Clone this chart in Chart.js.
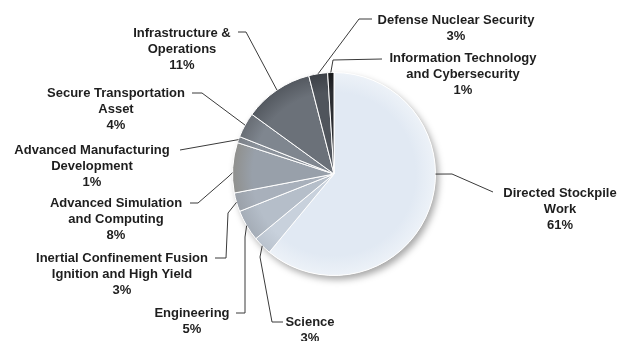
<!DOCTYPE html>
<html>
<head>
<meta charset="utf-8">
<script src="https://cdn.jsdelivr.net/npm/chart.js@4"></script>
<style>
  html, body { margin: 0; padding: 0; background: #fff; }
  #wrap { width: 625px; height: 341px; position: relative; }
</style>
</head>
<body>
<div id="wrap"><canvas id="budget"></canvas></div>
<script>
// slices, clockwise from 12 o'clock
const categories = [
  'Directed Stockpile\nWork',
  'Science',
  'Engineering',
  'Inertial Confinement Fusion\nIgnition and High Yield',
  'Advanced Simulation\nand Computing',
  'Advanced Manufacturing\nDevelopment',
  'Secure Transportation\nAsset',
  'Infrastructure &\nOperations',
  'Defense Nuclear Security',
  'Information Technology\nand Cybersecurity'
];
const shares = [61, 3, 5, 3, 8, 1, 4, 11, 3, 1];

// inner / rim colour of each slice
const innerColors = ['#e1e9f3', '#c8d1dc', '#b5bec9', '#a8b0bb', '#98a0aa', '#8b929b', '#7f868f', '#6b7179', '#50555c', '#2b2d31'];
const rimColors = ['#edf2f8', '#b9c2cd', '#a4acb6', '#9aa0a8', '#8f8f8c', '#7a7f86', '#676c73', '#53585f', '#3c4046', '#17181a'];

// label placement: text centre, first line y, leader path toward the pie, position along slice
const labelLayout = [
  { x: 560, y: 193, path: [[493, 192], [452, 174]], at: 0.41 },
  { x: 310, y: 322, path: [[283, 322], [272, 322], [260, 257]] },
  { x: 192, y: 313, path: [[236, 313], [245, 313], [245, 237]] },
  { x: 122, y: 258, path: [[215, 258], [226, 258], [228, 213]] },
  { x: 116, y: 203, path: [[190, 203], [198, 203], [228, 177]], at: 0.4 },
  { x: 92,  y: 150, path: [[180, 150]] },
  { x: 116, y: 93,  path: [[192, 93], [202, 93]] },
  { x: 182, y: 33,  path: [[238, 32], [246, 32]] },
  { x: 456, y: 20,  path: [[372, 19], [359, 19]] },
  { x: 463, y: 58,  path: [[382, 59], [333, 60]] }
];

function sliceFill(context) {
  const i = context.dataIndex;
  const area = context.chart.chartArea;
  if (!area) return innerColors[i];
  const cx = (area.left + area.right) / 2;
  const cy = (area.top + area.bottom) / 2;
  const r = Math.min(area.right - area.left, area.bottom - area.top) / 2;
  const g = context.chart.ctx.createRadialGradient(cx, cy, 0, cx, cy, r);
  g.addColorStop(0, innerColors[i]);
  g.addColorStop(0.8, innerColors[i]);
  g.addColorStop(1, rimColors[i]);
  return g;
}

const pieShadow = {
  id: 'pieShadow',
  beforeDatasetsDraw(chart) {
    const arc = chart.getDatasetMeta(0).data[0];
    if (!arc) return;
    const ctx = chart.ctx;
    ctx.save();
    ctx.shadowColor = 'rgba(0,0,0,0.35)';
    ctx.shadowBlur = 7;
    ctx.shadowOffsetX = 3;
    ctx.shadowOffsetY = 4;
    ctx.fillStyle = '#fff';
    ctx.beginPath();
    ctx.arc(arc.x, arc.y, arc.outerRadius, 0, Math.PI * 2);
    ctx.fill();
    ctx.restore();
  }
};

const sliceLabels = {
  id: 'sliceLabels',
  afterDatasetsDraw(chart) {
    const ctx = chart.ctx;
    const arcs = chart.getDatasetMeta(0).data;
    ctx.save();
    ctx.strokeStyle = '#3a3a3a';
    ctx.lineWidth = 1;
    ctx.fillStyle = '#1e1e1e';
    ctx.font = 'bold 13px "Liberation Sans", Arial, sans-serif';
    ctx.textAlign = 'center';
    ctx.textBaseline = 'middle';
    arcs.forEach((arc, i) => {
      const lay = labelLayout[i];
      const p = arc.getProps(['x', 'y', 'startAngle', 'endAngle', 'outerRadius'], true);
      const t = lay.at === undefined ? 0.5 : lay.at;
      const a = p.startAngle + (p.endAngle - p.startAngle) * t;
      const ax = p.x + Math.cos(a) * p.outerRadius;
      const ay = p.y + Math.sin(a) * p.outerRadius;
      ctx.beginPath();
      ctx.moveTo(lay.path[0][0], lay.path[0][1]);
      lay.path.slice(1).forEach(pt => ctx.lineTo(pt[0], pt[1]));
      ctx.lineTo(ax, ay);
      ctx.stroke();
      const lines = categories[i].split('\n').concat([shares[i] + '%']);
      lines.forEach((ln, k) => ctx.fillText(ln, lay.x, lay.y + k * 16.3));
    });
    ctx.restore();
  }
};

new Chart(document.getElementById('budget').getContext('2d'), {
  type: 'pie',
  data: {
    labels: categories.map(c => c.replace('\n', ' ')),
    datasets: [{
      data: shares,
      backgroundColor: sliceFill,
      borderColor: '#ffffff',
      borderWidth: 1
    }]
  },
  options: {
    responsive: true,
    maintainAspectRatio: false,
    animation: false,
    layout: {
      padding: { top: 72, bottom: 65, left: 100, right: 57 }
    },
    plugins: {
      legend: { display: false },
      tooltip: { enabled: false }
    }
  },
  plugins: [pieShadow, sliceLabels]
});
</script>
</body>
</html>
